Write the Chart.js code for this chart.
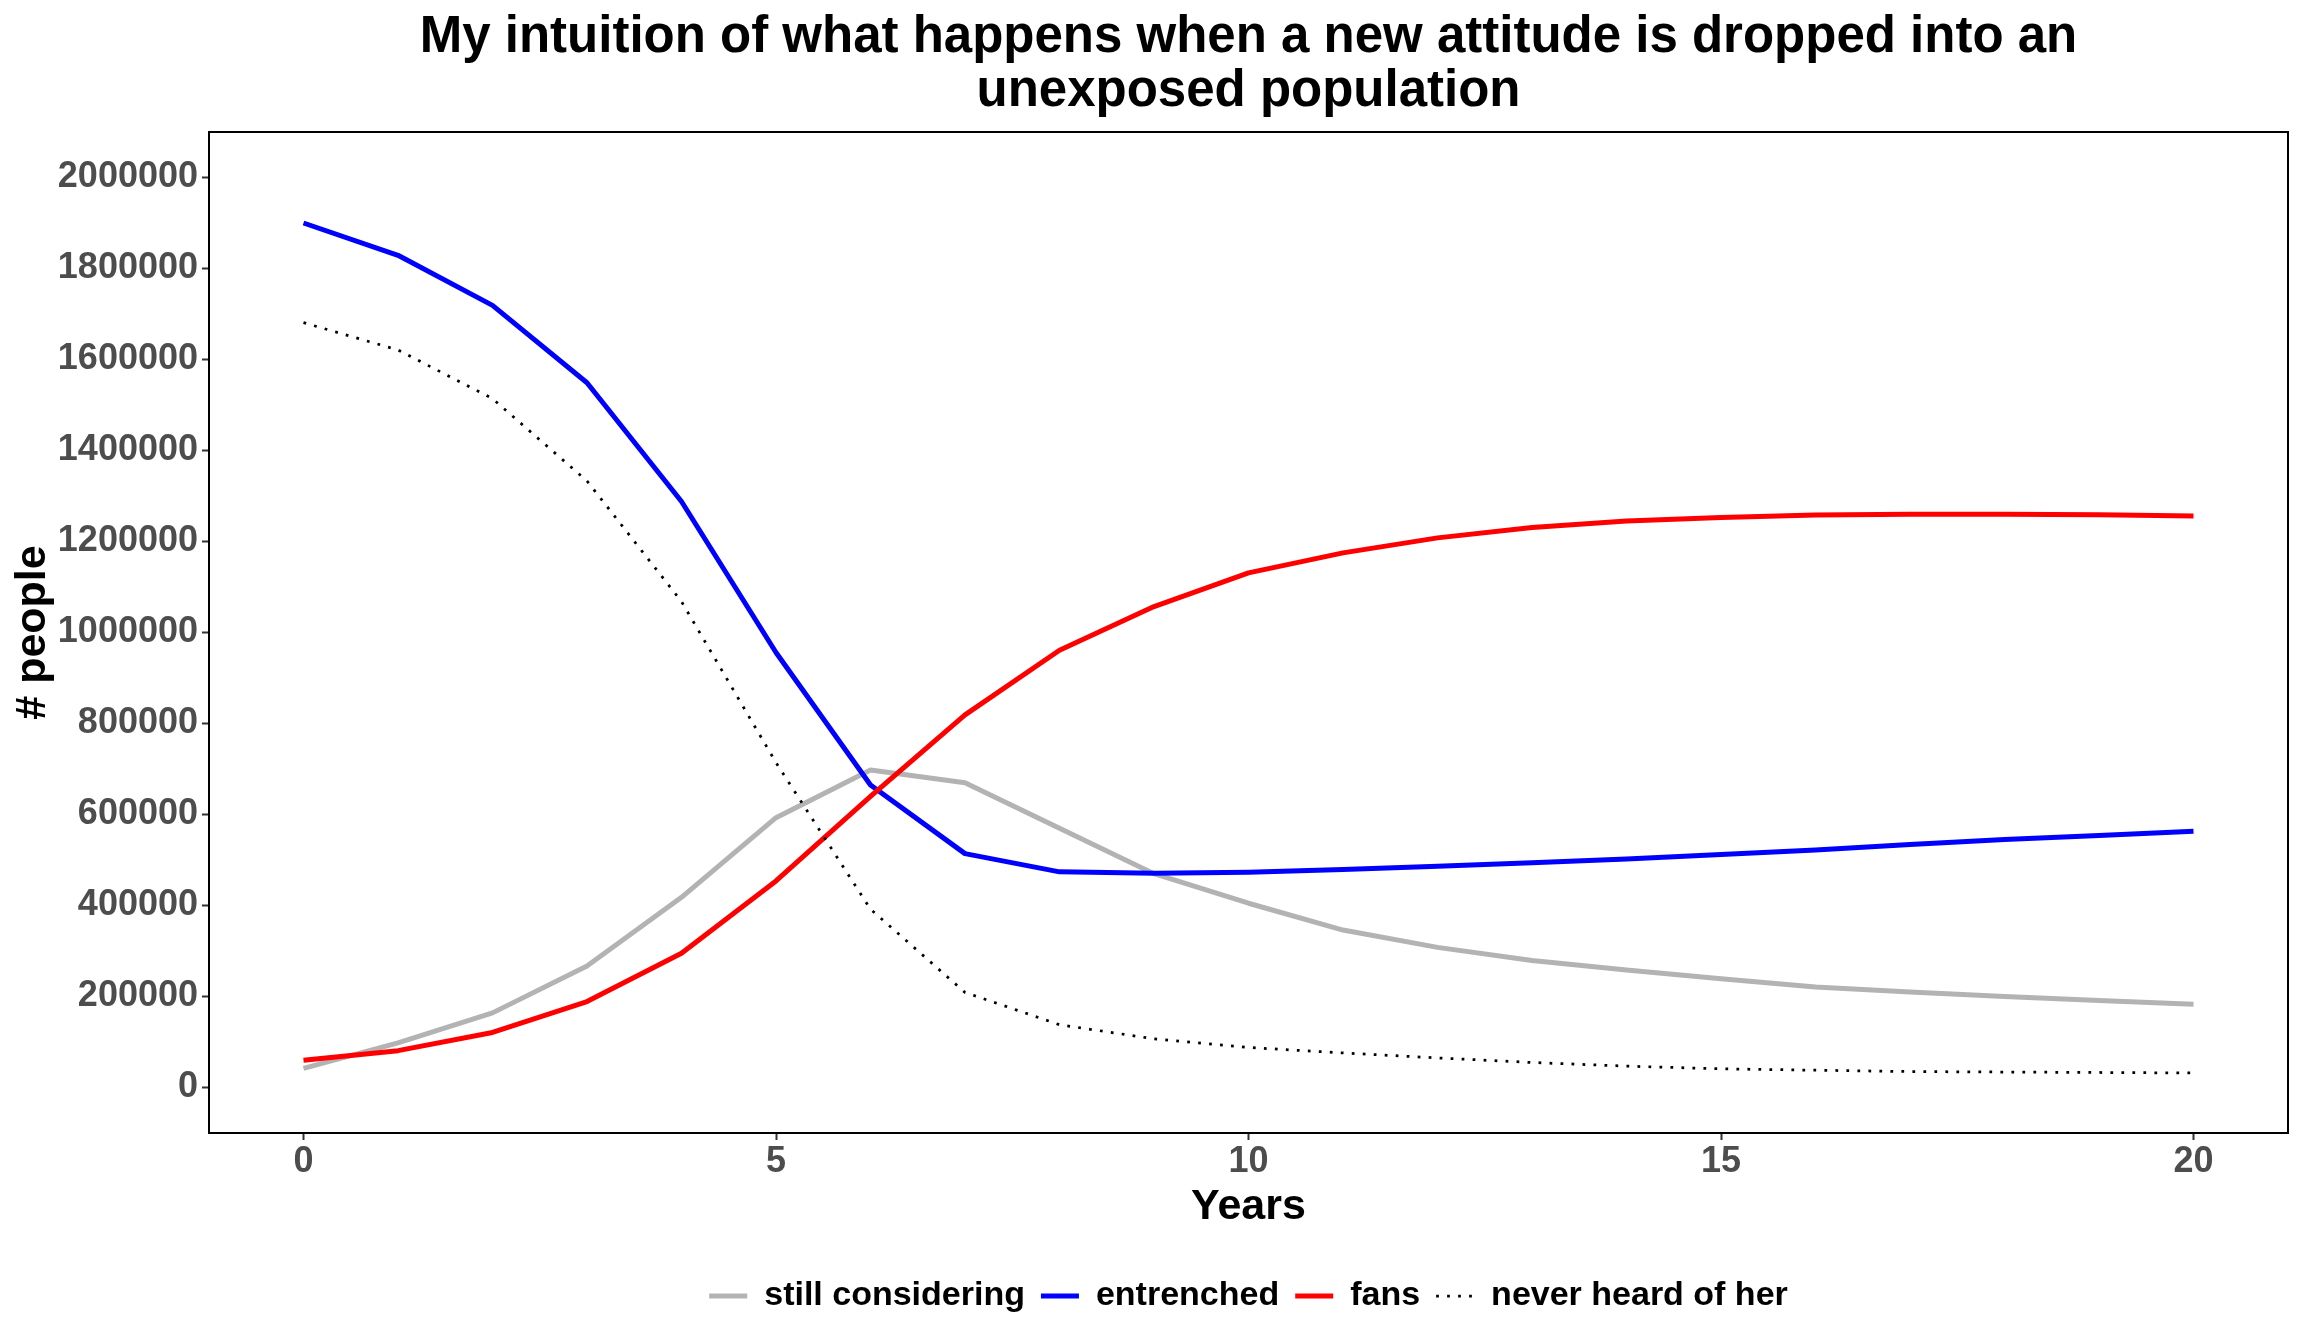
<!DOCTYPE html>
<html>
<head>
<meta charset="utf-8">
<script src="https://cdn.jsdelivr.net/npm/chart.js@4.4.0/dist/chart.umd.min.js"></script>
<style>
html,body{margin:0;padding:0;background:#ffffff;}
#wrap{width:2304px;height:1344px;}
</style>
</head>
<body>
<div id="wrap"><canvas id="c" width="2304" height="1344"></canvas></div>
<script>
// ---- data ----
const years = [0,1,2,3,4,5,6,7,8,9,10,11,12,13,14,15,16,17,18,19,20];
const seriesNames = ['still considering','entrenched','fans','never heard of her'];
const stillConsidering = [42000, 98000, 164000, 267000, 418000, 593000, 698000, 670000, 570000, 470000, 405000, 346000, 308000, 279000, 258000, 239000, 221000, 210000, 200000, 191000, 183000];
const entrenched = [1900000, 1829000, 1719000, 1549000, 1288000, 956000, 665000, 514000, 474000, 471000, 473000, 479000, 486000, 494000, 502000, 512000, 522000, 534000, 545000, 554000, 563000];
const fans = [60000, 81000, 121000, 189000, 295000, 454000, 640000, 819000, 961000, 1057000, 1131000, 1175000, 1208000, 1231000, 1245000, 1253000, 1258000, 1260000, 1260000, 1259000, 1256000];
const neverHeard = [1681000, 1621000, 1514000, 1333000, 1068000, 714000, 392000, 209000, 138000, 107000, 88000, 76000, 65000, 55000, 47000, 41000, 38000, 35000, 34000, 33000, 32000];
const xTicks = [0, 5, 10, 15, 20];
const yTicks = [0, 200000, 400000, 600000, 800000, 1000000, 1200000, 1400000, 1600000, 1800000, 2000000];
const titleLines = ['My intuition of what happens when a new attitude is dropped into an', 'unexposed population'];
const xTitle = 'Years';
const yTitle = '# people';

// ---- chart ----
const FONT = "'Liberation Sans', Arial, Helvetica, sans-serif";
Chart.defaults.font.family = FONT;

const toPts = arr => years.map((x, i) => ({x: x, y: arr[i]}));

const panelBorder = {
  id: 'panelBorder',
  beforeDraw(chart) {
    const ctx = chart.ctx;
    ctx.save();
    ctx.fillStyle = '#ffffff';
    ctx.fillRect(0, 0, chart.width, chart.height);
    ctx.restore();
  },
  afterDatasetsDraw(chart) {
    const a = chart.chartArea;
    const ctx = chart.ctx;
    ctx.save();
    ctx.strokeStyle = '#000000';
    ctx.lineWidth = 2;
    ctx.strokeRect(a.left, a.top, a.right - a.left, a.bottom - a.top);
    ctx.restore();
  }
};

const lineBase = {pointRadius: 0, pointHoverRadius: 0, tension: 0, borderCapStyle: 'butt', borderJoinStyle: 'round', fill: false};

new Chart(document.getElementById('c'), {
  type: 'line',
  data: {
    datasets: [
      Object.assign({label: seriesNames[0], data: toPts(stillConsidering), borderColor: '#b3b3b3', backgroundColor: '#b3b3b3', borderWidth: 5, order: 4}, lineBase),
      Object.assign({label: seriesNames[1], data: toPts(entrenched), borderColor: '#0000ff', backgroundColor: '#0000ff', borderWidth: 5, order: 3}, lineBase),
      Object.assign({label: seriesNames[2], data: toPts(fans), borderColor: '#ff0000', backgroundColor: '#ff0000', borderWidth: 5, order: 2}, lineBase),
      Object.assign({label: seriesNames[3], data: toPts(neverHeard), borderColor: '#000000', backgroundColor: '#000000', borderWidth: 2.75, borderDash: [2.75, 8.25], order: 1}, lineBase)
    ]
  },
  options: {
    responsive: false,
    animation: false,
    devicePixelRatio: 1,
    layout: {padding: {left: 0, right: 16, top: 11, bottom: 21}},
    plugins: {
      title: {
        display: true, text: titleLines, fullSize: false, color: '#000000',
        font: {size: 51, weight: 'bold', lineHeight: 54 / 51},
        padding: {top: 0, bottom: 13}
      },
      legend: {
        display: true, position: 'bottom', fullSize: false,
        labels: {
          usePointStyle: true, pointStyle: 'line', pointStyleWidth: 38,
          color: '#000000', font: {size: 34, weight: 'bold'}, padding: 16,
          sort: (a, b) => a.datasetIndex - b.datasetIndex,
          generateLabels: chart => {
            const items = Chart.defaults.plugins.legend.labels.generateLabels(chart);
            items.forEach(it => {
              const ds = chart.data.datasets[it.datasetIndex];
              it.lineDash = ds.borderDash || [];
              it.lineWidth = ds.borderWidth;
              it.strokeStyle = ds.borderColor;
              it.lineCap = 'butt';
            });
            return items;
          }
        }
      },
      tooltip: {enabled: false}
    },
    scales: {
      x: {
        type: 'linear', min: -1, max: 21,
        afterBuildTicks: s => { s.ticks = xTicks.map(v => ({value: v})); },
        afterFit: s => { s.height = 130; },
        grid: {drawOnChartArea: false, drawTicks: true, tickLength: 7, tickWidth: 2, tickColor: '#333333'},
        border: {display: false},
        ticks: {color: '#4d4d4d', font: {size: 36, weight: 'bold'}, padding: 0, maxRotation: 0, autoSkip: false, callback: v => String(v)},
        title: {display: true, text: xTitle, color: '#000000', font: {size: 43, weight: 'bold'}, padding: {top: 0, bottom: 30}}
      },
      y: {
        type: 'linear', min: -100000, max: 2100000,
        afterBuildTicks: s => { s.ticks = yTicks.map(v => ({value: v})); },
        afterFit: s => { s.width = 209; },
        grid: {drawOnChartArea: false, drawTicks: true, tickLength: 7, tickWidth: 2, tickColor: '#333333'},
        border: {display: false},
        ticks: {color: '#4d4d4d', font: {size: 36, weight: 'bold'}, padding: 4, autoSkip: false, callback: v => String(v)},
        title: {display: true, text: yTitle, color: '#000000', font: {size: 43, weight: 'bold'}, padding: {top: 7, bottom: 0}}
      }
    }
  },
  plugins: [panelBorder]
});
</script>
</body>
</html>
